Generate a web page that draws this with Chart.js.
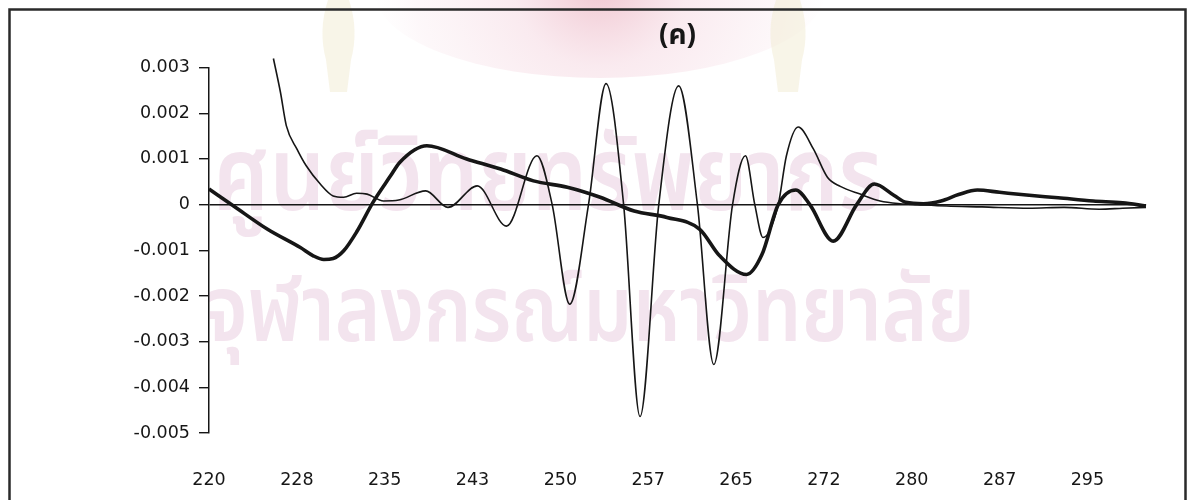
<!DOCTYPE html>
<html>
<head>
<meta charset="utf-8">
<script src="https://cdn.jsdelivr.net/npm/chart.js@4.4.1/dist/chart.umd.min.js"></script>
<style>
  html, body { margin: 0; padding: 0; background: #ffffff; }
  canvas { display: block; }
</style>
</head>
<body>
<canvas id="chart" width="1190" height="500"></canvas>
<script>
// Panel label and axis labels
const panelTitle = '(ค)';
const xTickLabels = ['220', '228', '235', '243', '250', '257', '265', '272', '280', '287', '295'];
const xTickStart = 220;
const xTickStep = 7.5;
const xMin = 220;
const xMax = 300;
const yMin = -0.005;
const yMax = 0.003;
const yStep = 0.001;

// Library watermark printed behind the plot
const watermarkLines = ['ศูนย์วิทยทรัพยากร', 'จุฬาลงกรณ์มหาวิทยาลัย'];

// Thin trace (oscillating derivative spectrum)
const thinWavelength = [
  225.5, 226.1, 226.6, 227.5, 228.3, 229.5, 230.6, 231.5, 232.6, 233.5,
  234.9, 236.2, 238.5, 240.4, 242.9, 245.4, 248.0, 249.3, 250.8, 252.4,
  253.9, 255.4, 256.8, 258.4, 260.1, 261.7, 263.1, 264.7, 265.8, 266.6,
  267.3, 268.6, 269.3, 270.3, 271.6, 272.8, 273.9, 275.6, 277.3, 279.0,
  280.5, 283.0, 286.0, 290.0, 293.0, 296.0, 298.0, 300.0
];
const thinValues = [
  0.0032, 0.00246, 0.00173, 0.00122, 0.00085, 0.00045, 0.00019, 0.00016, 0.00025, 0.00023,
  0.00008, 0.00010, 0.00030, -0.00006, 0.00041, -0.00047, 0.00107, 0.0, -0.00218, 0.0,
  0.00265, 0.0, -0.00464, 0.0, 0.00260, 0.0, -0.00350, 0.0, 0.00107, 0.0,
  -0.00072, 0.0, 0.00107, 0.00170, 0.00122, 0.00060, 0.00040, 0.00023, 0.00008, 0.00002,
  0.0, -0.00003, -0.00005, -0.00008, -0.00006, -0.00010, -0.00008, -0.00006
];

// Thick trace
const thickWavelength = [
  220.0, 222.1, 225.0, 227.8, 228.9, 229.8, 230.6, 231.5, 232.6, 234.0,
  235.5, 236.3, 238.6, 242.0, 244.9, 247.7, 250.6, 253.4, 256.3, 259.1,
  261.9, 263.6, 265.9, 267.2, 268.6, 270.1, 271.3, 273.3, 275.3, 276.8,
  278.5, 279.5, 281.0, 282.5, 284.0, 285.6, 287.5, 289.8, 292.5, 295.5,
  298.0, 300.0
];
const thickValues = [
  0.00034, -0.00003, -0.00054, -0.00094, -0.00112, -0.00120, -0.00118, -0.00101, -0.00060, 0.00005,
  0.00063, 0.00093, 0.00129, 0.00100, 0.00078, 0.00052, 0.00038, 0.00016, -0.00014, -0.00028,
  -0.00054, -0.00112, -0.00153, -0.00110, 0.0, 0.00032, 0.0, -0.00080, 0.0, 0.00045,
  0.00020, 0.00005, 0.00002, 0.00008, 0.00022, 0.00032, 0.00027, 0.00021, 0.00015, 0.00008,
  0.00004, -0.00003
];

const ink = '#161616';
const tickFont = { family: "'DejaVu Sans', Verdana, sans-serif", size: 17.5 };
const thaiFamily = "'Noto Sans Thai', 'Noto Sans', 'DejaVu Sans', sans-serif";

function toPoints(xs, ys) {
  return xs.map((x, i) => ({ x: x, y: ys[i] }));
}

function isZero(v) { return Math.abs(v) < 1e-9; }

// Draw a line of text, taller than its natural proportions, squeezed to the given width
function fitText(ctx, text, left, baseline, width) {
  const font = (s) => '600 ' + s.toFixed(1) + 'px ' + thaiFamily;
  ctx.font = font(100);
  const w = ctx.measureText(text).width;
  const size = 100 * width / w * 1.18;
  ctx.font = font(size);
  ctx.fillText(text, left, baseline, width);
}

// Page frame, faded emblem and watermark lettering under the chart
const pagePlugin = {
  id: 'pageDecor',
  beforeDraw(chart) {
    const ctx = chart.ctx;
    ctx.save();
    ctx.fillStyle = '#ffffff';
    ctx.fillRect(0, 0, chart.width, chart.height);

    // emblem dome at the top edge
    const g = ctx.createRadialGradient(600, -20, 10, 600, -20, 230);
    g.addColorStop(0, 'rgba(220,120,145,0.40)');
    g.addColorStop(0.35, 'rgba(236,180,198,0.28)');
    g.addColorStop(0.8, 'rgba(246,222,230,0.22)');
    g.addColorStop(1, 'rgba(250,235,240,0.0)');
    ctx.fillStyle = g;
    ctx.beginPath();
    ctx.ellipse(600, -8, 225, 86, 0, 0, Math.PI * 2);
    ctx.fill();

    // tassels either side of the emblem
    ctx.fillStyle = 'rgba(240,232,204,0.45)';
    [[322, 355], [770, 806]].forEach(([a, b]) => {
      ctx.beginPath();
      ctx.moveTo(a + 6, 0);
      ctx.lineTo(b - 6, 0);
      ctx.quadraticCurveTo(b + 4, 30, b - 4, 60);
      ctx.lineTo(b - 8, 92);
      ctx.lineTo(a + 8, 92);
      ctx.lineTo(a + 4, 60);
      ctx.quadraticCurveTo(a - 4, 30, a + 6, 0);
      ctx.fill();
    });

    // watermark text
    ctx.fillStyle = '#f3e4ee';
    ctx.textBaseline = 'alphabetic';
    ctx.textAlign = 'left';
    fitText(ctx, watermarkLines[0], 213, 210, 670);
    fitText(ctx, watermarkLines[1], 205, 341, 770);
    ctx.restore();
  },
  afterDraw(chart) {
    const ctx = chart.ctx;
    ctx.save();
    ctx.strokeStyle = '#2a2a2a';
    ctx.lineWidth = 2.5;
    ctx.beginPath();
    ctx.moveTo(9.5, 520);
    ctx.lineTo(9.5, 9.5);
    ctx.lineTo(1185.5, 9.5);
    ctx.lineTo(1185.5, 520);
    ctx.stroke();
    ctx.restore();
  }
};

new Chart(document.getElementById('chart'), {
  type: 'line',
  data: {
    datasets: [
      {
        label: 'thin',
        data: toPoints(thinWavelength, thinValues),
        borderColor: ink,
        borderWidth: 1.6,
        pointRadius: 0,
        fill: false,
        cubicInterpolationMode: 'monotone',
        clip: false
      },
      {
        label: 'thick',
        data: toPoints(thickWavelength, thickValues),
        borderColor: ink,
        borderWidth: 3.6,
        pointRadius: 0,
        fill: false,
        cubicInterpolationMode: 'monotone',
        clip: false
      }
    ]
  },
  options: {
    responsive: false,
    animation: false,
    devicePixelRatio: 1,
    layout: { padding: { left: 0, right: 44, top: 0, bottom: 0 } },
    plugins: {
      legend: { display: false },
      tooltip: { enabled: false },
      title: {
        display: true,
        text: panelTitle,
        fullSize: false,
        color: ink,
        font: { family: thaiFamily, size: 28, weight: 'bold' },
        padding: { top: 22, bottom: 12 }
      }
    },
    scales: {
      x: {
        type: 'linear',
        min: xMin,
        max: xMax,
        afterBuildTicks(scale) {
          scale.ticks = xTickLabels.map((_, i) => ({ value: xTickStart + i * xTickStep }));
        },
        afterFit(scale) { scale.height = 67; },
        grid: { display: false, drawTicks: false },
        border: { display: false },
        ticks: {
          autoSkip: false,
          maxRotation: 0,
          padding: 37,
          color: ink,
          font: tickFont,
          callback: (value, index) => xTickLabels[index]
        }
      },
      y: {
        min: yMin,
        max: yMax,
        afterFit(scale) { scale.width = 209; },
        border: { display: true, color: ink, width: 1.5 },
        grid: {
          drawOnChartArea: true,
          color: (c) => (c.tick && isZero(c.tick.value)) ? ink : 'rgba(0,0,0,0)',
          lineWidth: 1.4,
          tickColor: ink,
          tickLength: 10
        },
        ticks: {
          stepSize: yStep,
          padding: 9,
          color: ink,
          font: tickFont,
          callback: (v) => isZero(v) ? '0' : Number(v).toFixed(3)
        }
      }
    }
  },
  plugins: [pagePlugin]
});
</script>
</body>
</html>
